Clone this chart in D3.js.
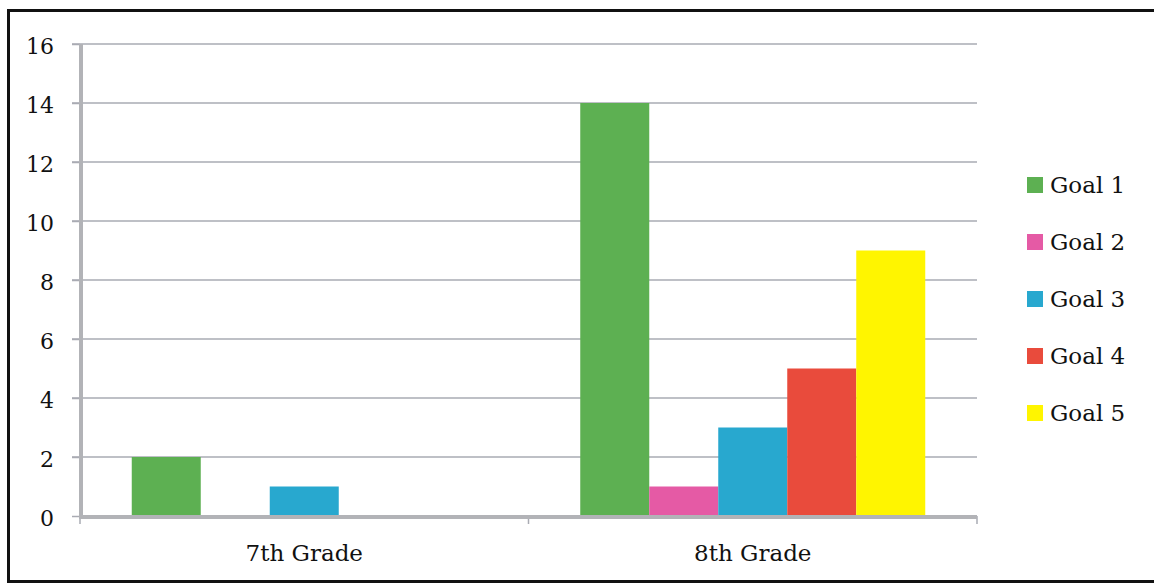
<!DOCTYPE html>
<html><head><meta charset="utf-8">
<script src="https://cdn.jsdelivr.net/npm/d3@7"></script>
<style>html,body{margin:0;padding:0;background:#fff;overflow:hidden}</style>
</head><body>
<svg id="c" width="1154" height="584"></svg>
<script>
const categories = ["7th Grade", "8th Grade"];
const seriesNames = ["Goal 1", "Goal 2", "Goal 3", "Goal 4", "Goal 5"];
const goal1 = [2, 14];
const goal2 = [0, 1];
const goal3 = [1, 3];
const goal4 = [0, 5];
const goal5 = [0, 9];
const yTicks = [0, 2, 4, 6, 8, 10, 12, 14, 16];
const colors = ["#5db052", "#e55aa5", "#28a8cf", "#e94b3c", "#fff500"];
const seriesValues = [goal1, goal2, goal3, goal4, goal5];

(function () {
const svg = d3.select("#c");
const font = "'DejaVu Serif', serif";
const pL = 80, pR = 977, pT = 44, pB = 516;

const x0 = d3.scaleBand().domain(categories).range([pL, pR]).paddingInner(0).paddingOuter(0);
const x1 = d3.scaleBand().domain(seriesNames).range([0, x0.bandwidth()]).paddingOuter(0.75).paddingInner(0);
const y = d3.scaleLinear().domain([0, 16]).range([pB, pT]);

// frame
svg.append("rect").attr("x", 8.5).attr("y", 10.5).attr("width", 1160).attr("height", 571)
  .attr("fill", "none").attr("stroke", "#111").attr("stroke-width", 3);

// gridlines
svg.append("g").selectAll("line").data(yTicks.filter(d => d > 0)).join("line")
  .attr("x1", pL - 8).attr("x2", pR).attr("y1", d => y(d)).attr("y2", d => y(d))
  .attr("stroke", "#a9abb3").attr("stroke-width", 1.5);

// bars
const g = svg.append("g");
seriesNames.forEach((s, i) => {
  g.selectAll(null).data(categories).join("rect")
    .attr("x", c => x0(c) + x1(s))
    .attr("width", x1.bandwidth())
    .attr("y", (c, j) => y(seriesValues[i][j]))
    .attr("height", (c, j) => y(0) - y(seriesValues[i][j]))
    .attr("fill", colors[i]);
});

// y axis
const yAxis = svg.append("g").attr("transform", `translate(${pL},0)`)
  .call(d3.axisLeft(y).tickValues(yTicks).tickSize(8).tickPadding(18));
yAxis.select(".domain").remove();
yAxis.selectAll(".tick line").attr("stroke", "#a9abb3").attr("stroke-width", 1.5);
yAxis.selectAll("text").attr("font-family", font).attr("font-size", 22).attr("fill", "#111").attr("dy", "0.42em");
svg.append("line").attr("x1", pL + 1).attr("x2", pL + 1).attr("y1", pT).attr("y2", pB + 2)
  .attr("stroke", "#b2b3b7").attr("stroke-width", 4);

// x axis
const xAxis = svg.append("g").attr("transform", `translate(0,${pB})`)
  .call(d3.axisBottom(x0).tickSize(0).tickPadding(29));
xAxis.select(".domain").remove();
xAxis.selectAll("text").attr("font-family", font).attr("font-size", 23).attr("fill", "#111");
svg.append("g").selectAll("line").data([pL, pL + x0.bandwidth(), pR]).join("line")
  .attr("x1", d => d).attr("x2", d => d).attr("y1", pB).attr("y2", pB + 8)
  .attr("stroke", "#a9abb3").attr("stroke-width", 1.5);
svg.append("line").attr("x1", pL - 1).attr("x2", pR).attr("y1", pB + 1).attr("y2", pB + 1)
  .attr("stroke", "#b2b3b7").attr("stroke-width", 4);

// legend
const leg = svg.append("g").selectAll("g").data(seriesNames).join("g")
  .attr("transform", (d, i) => `translate(1027,${185 + i * 57})`);
leg.append("rect").attr("x", 0).attr("y", -8).attr("width", 16).attr("height", 16).attr("fill", (d, i) => colors[i]);
leg.append("text").attr("x", 23).attr("y", 0).attr("dy", "0.36em")
  .attr("font-family", font).attr("font-size", 23).attr("fill", "#111").text(d => d);
})();
</script>
</body></html>
